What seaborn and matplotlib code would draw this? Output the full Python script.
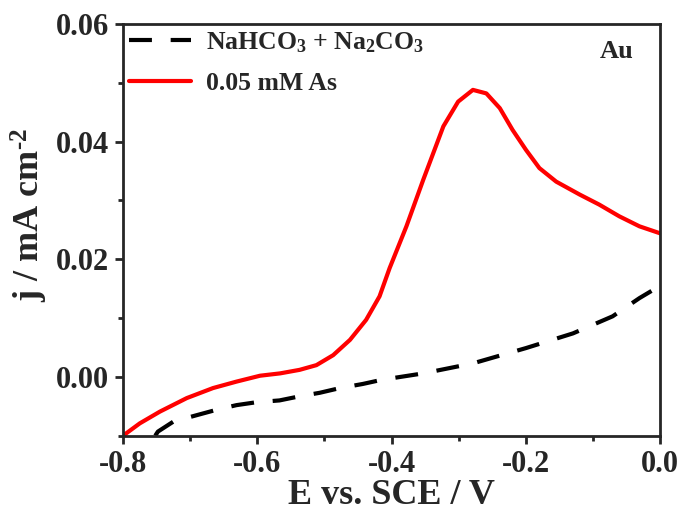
import numpy as np
import pandas as pd
import matplotlib
matplotlib.use("Agg")
import matplotlib.pyplot as plt
import seaborn as sns
from matplotlib.ticker import MultipleLocator

# Background electrolyte scan
e_blank = [-0.752, -0.748, -0.725, -0.690, -0.661, -0.631, -0.601, -0.567, -0.537,
           -0.507, -0.477, -0.443, -0.415, -0.353, -0.279, -0.200, -0.130,
           -0.071, -0.031, -0.006, 0.0]
j_blank = [-0.0100, -0.0093, -0.0076, -0.0065, -0.0056, -0.0048, -0.0043, -0.0040,
           -0.0033, -0.0027, -0.0019, -0.0012, -0.0005, 0.0006, 0.0023, 0.0049,
           0.0074, 0.0103, 0.0134, 0.0151, 0.0155]

# Scan with 0.05 mM As added
e_as = [-0.800, -0.775, -0.745, -0.705, -0.666, -0.631, -0.596, -0.566, -0.537,
        -0.512, -0.487, -0.462, -0.438, -0.418, -0.403, -0.378, -0.353, -0.323,
        -0.301, -0.279, -0.259, -0.239, -0.220, -0.200, -0.180, -0.155, -0.120,
        -0.091, -0.061, -0.031, 0.0]
j_as = [-0.0100, -0.0079, -0.0059, -0.0036, -0.0019, -0.0008, 0.0002, 0.0006,
        0.0012, 0.0020, 0.0037, 0.0063, 0.0097, 0.0137, 0.0185, 0.0256, 0.0335,
        0.0426, 0.0468, 0.0488, 0.0482, 0.0457, 0.0420, 0.0386, 0.0355, 0.0332,
        0.0310, 0.0293, 0.0273, 0.0256, 0.0244]

lbl_blank = r"NaHCO$_\mathbf{3}$ + Na$_\mathbf{2}$CO$_\mathbf{3}$"
lbl_as = "0.05 mM As"

df = pd.concat([
    pd.DataFrame({"E": e_blank, "j": j_blank, "sample": lbl_blank}),
    pd.DataFrame({"E": e_as, "j": j_as, "sample": lbl_as}),
], ignore_index=True)

sns.set_style("ticks")
plt.rcParams["font.family"] = ["Liberation Serif", "DejaVu Serif"]
plt.rcParams["font.weight"] = "bold"
plt.rcParams["mathtext.fontset"] = "custom"
plt.rcParams["mathtext.rm"] = "Liberation Serif:bold"
plt.rcParams["mathtext.bf"] = "Liberation Serif:bold"
plt.rcParams["mathtext.it"] = "Liberation Serif:bold"

fig = plt.figure(figsize=(6.81, 5.14), dpi=100)
ax = fig.add_axes([0.1806, 0.1523, 0.789, 0.801])

sns.lineplot(data=df, x="E", y="j", hue="sample", style="sample",
             hue_order=[lbl_blank, lbl_as], style_order=[lbl_blank, lbl_as],
             palette={lbl_blank: "black", lbl_as: "#ff0000"},
             dashes={lbl_blank: (5.5, 4.5), lbl_as: ""},
             linewidth=3.0, sort=False, estimator=None, ax=ax)
for ln in ax.get_lines():
    ln.set_solid_joinstyle("round")

ax.set_xlim(-0.8, 0.0)
ax.set_ylim(-0.01, 0.06)
ax.xaxis.set_minor_locator(MultipleLocator(0.1))
ax.yaxis.set_minor_locator(MultipleLocator(0.01))
ax.set_xticks([-0.8, -0.6, -0.4, -0.2, 0.0])
ax.set_xticklabels(["-0.8", "-0.6", "-0.4", "-0.2", "0.0"])
ax.set_yticks([0.0, 0.02, 0.04, 0.06])
ax.set_yticklabels(["0.00", "0.02", "0.04", "0.06"])

for s in ax.spines.values():
    s.set_linewidth(2.0)
    s.set_visible(True)
ax.tick_params(which="major", direction="out", length=6, width=2.0,
               labelsize=22, pad=4)
ax.tick_params(which="minor", direction="out", length=3.5, width=2.0)
for t in ax.get_xticklabels() + ax.get_yticklabels():
    t.set_fontweight("bold")

ax.set_xlabel("E vs. SCE / V", fontsize=26, fontweight="bold", labelpad=0)
ax.set_ylabel(r"j / mA cm$^{\text{-2}}$", fontsize=26, fontweight="bold")
ax.yaxis.set_label_coords(-0.135, 0.535)

ax.text(0.95, 0.933, "Au", transform=ax.transAxes, ha="right", va="center",
        fontsize=19, fontweight="bold")

leg = ax.legend(loc="upper left", frameon=False, handlelength=2.4,
                handletextpad=0.6, borderaxespad=0.15, borderpad=0.1,
                labelspacing=0.65, prop={"weight": "bold", "size": 18.5})
for line in leg.get_lines():
    line.set_linewidth(3.0)

fig.savefig("out.png", dpi=100)
